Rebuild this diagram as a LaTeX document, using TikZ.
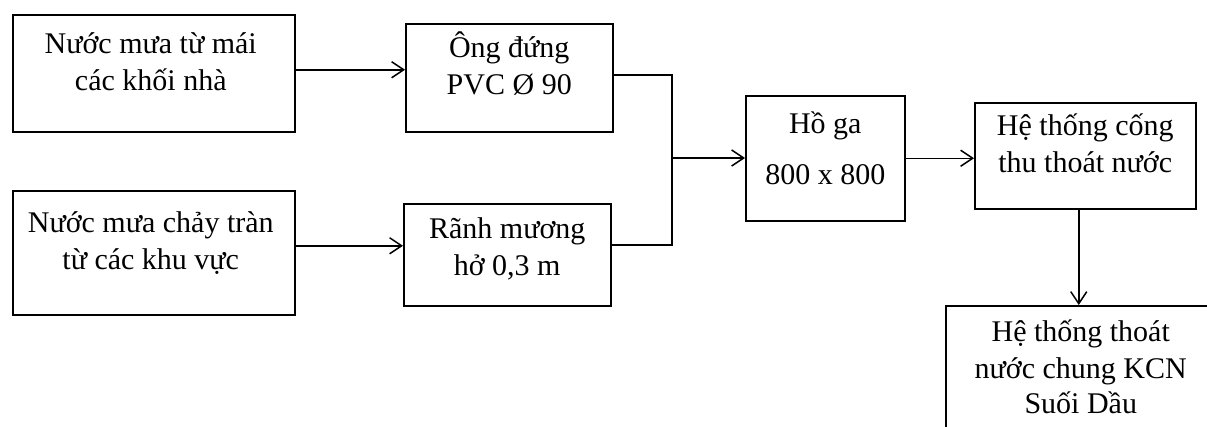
\documentclass[tikz,border=0pt]{standalone}
\usepackage{fontspec}
\setmainfont{Liberation Serif}
\usetikzlibrary{arrows.meta,positioning,calc}

\begin{document}
\begin{tikzpicture}[
  x=1pt, y=-1pt,
  font=\fontsize{30}{37}\selectfont,
  box/.style 2 args={draw, line width=1.5pt, minimum width=#1, minimum height=#2, anchor=north west, inner sep=0pt},
  txt/.style={align=center, inner sep=0pt, anchor=base},
  arr/.style={-{Straight Barb[length=12pt, width=16pt]}, line width=1.5pt}
]
  \clip (0,0) rectangle (1207,426);
  % boxes
  \node[box={282}{117}] (b1) at (12,14) {};
  \node[box={207}{108}] (b2) at (405,23) {};
  \node[box={282}{124}] (b3) at (12,190) {};
  \node[box={207}{102}] (b4) at (403,203) {};
  \node[box={159}{125}] (b5) at (745,95) {};
  \node[box={221}{106}] (b6) at (974,102) {};
  \node[box={266}{140}] (b7) at (945,305) {};
  % texts (base = last line)
  \node[txt] (t1) at ($(b1.north)+(-3,76)$) {Nước mưa từ mái\\các khối nhà};
  \node[txt] (t2) at ($(b2.north)+(0,71)$) {Ông đứng\\PVC Ø 90};
  \node[txt] (t3) at ($(b3.north)+(-3,79)$) {Nước mưa chảy tràn\\từ các khu vực};
  \node[txt] (t4) at ($(b4.north)+(0,72)$) {Rãnh mương\\hở 0,3 m};
  \node[txt] (t5) at ($(b5.north)+(0,89)$) {Hồ ga\\[14pt]800 x 800};
  \node[txt] (t6) at ($(b6.north)+(0,70)$) {Hệ thống cống\\thu thoát nước};
  \node[txt] (t7) at ($(b7.north)+(2,108)$) {Hệ thống thoát\\nước chung KCN\\[-2pt]Suối Dầu};
  % connectors
  \coordinate (j) at (672,158);
  \draw[arr] ([yshift=3.5pt]b1.east) -- ([yshift=3.5pt]b1.east -| b2.west);
  \draw[arr] ([yshift=7pt]b3.east) -- ([yshift=7pt]b3.east -| b4.west);
  \draw[line width=1.5pt] ([yshift=3pt]b2.east) -| (j);
  \draw[line width=1.5pt] ([yshift=10pt]b4.east) -| (j);
  \draw[arr] (j) -- (j -| b5.west);
  \draw[arr] (b5.east) -- (b5.east -| b6.west);
  \draw[arr] (b7.north |- b6.south) -- (b7.north);
\end{tikzpicture}
\end{document}
